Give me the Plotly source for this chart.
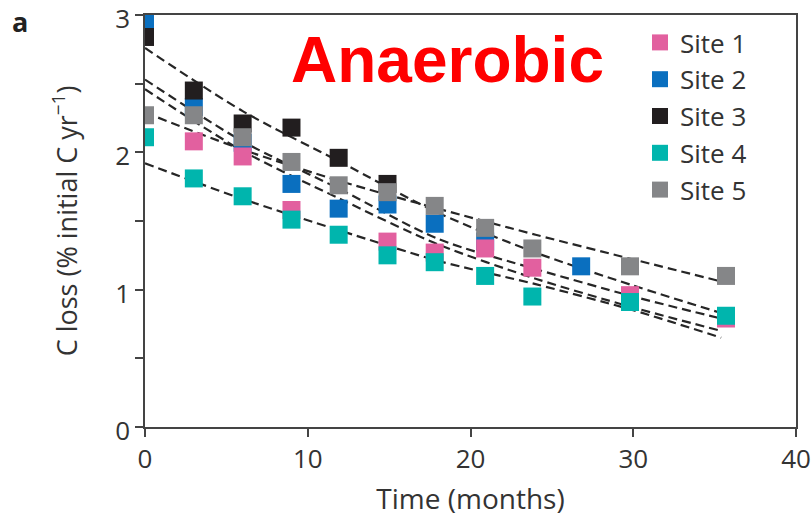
import plotly.graph_objects as go

# ---- data ----
t_all = [0, 3, 6, 9, 11.9, 14.9, 17.8, 20.9, 23.8, 26.8, 29.8, 35.7]

site1 = [None, 2.08, 1.97, 1.58, None, 1.35, 1.27, 1.30, 1.16, None, 0.96, 0.79]
site2 = [2.96, 2.33, 2.07, 1.77, 1.59, 1.62, 1.48, 1.35, None, 1.17, None, None]
site3 = [2.84, 2.45, 2.21, 2.18, 1.96, 1.77, None, None, None, None, None, None]
site4 = [2.11, 1.81, 1.68, 1.51, 1.40, 1.25, 1.20, 1.10, 0.95, None, 0.91, 0.81]
site5 = [2.27, 2.27, 2.11, 1.93, 1.76, 1.71, 1.61, 1.45, 1.30, None, 1.17, 1.10]

# fitted (dashed) curves
t_fit = [0, 6, 12, 18, 24, 30, 35.4]
fit1 = [2.46, 2.01, 1.66, 1.33, 1.08, 0.87, 0.70]
fit2 = [2.53, 2.08, 1.73, 1.37, 1.15, 0.95, 0.79]
fit3 = [2.76, 2.30, 1.93, 1.56, 1.27, 1.03, 0.83]
fit4 = [1.92, 1.66, 1.43, 1.21, 1.04, 0.85, 0.65]
fit5 = [2.29, 2.02, 1.79, 1.59, 1.40, 1.22, 1.06]

names = ["Site 1", "Site 2", "Site 3", "Site 4", "Site 5"]
colors = ["#E2609F", "#0A6FBF", "#221E1F", "#00B5AD", "#858688"]
values = [site1, site2, site3, site4, site5]
fits = [fit1, fit2, fit3, fit4, fit5]

x_ticks = [0, 10, 20, 30, 40]
y_ticks = [0, 1, 2, 3]

FONT = "Open Sans"
TXT = "#333333"

# plot-area geometry (pixels)
L, R, T, B = 145, 15, 15, 92
W, H = 811, 519
PW, PH = W - L - R, H - T - B

fig = go.Figure()

# dashed fit lines
for f in fits:
    fig.add_trace(go.Scatter(
        x=t_fit, y=f, mode="lines", showlegend=False, hoverinfo="skip",
        line=dict(color="#262626", width=2.2, dash="9px,5px", shape="spline", smoothing=0.8)))

# markers: draw order blue, pink, black, teal, gray; legend order by rank
draw_order = [1, 0, 2, 3, 4]
for i in draw_order:
    fig.add_trace(go.Scatter(
        x=t_all, y=values[i], mode="markers", name=names[i], legendrank=i + 1,
        marker=dict(symbol="square", size=18, color=colors[i], line=dict(width=0))))

axis_common = dict(ticks="outside", ticklen=8, tickwidth=1.5, tickcolor="#444",
                   showline=True, linecolor="#444", linewidth=1.5, mirror=True,
                   showgrid=False, zeroline=False, automargin=False,
                   ticklabeloverflow="allow",
                   tickfont=dict(size=26, family=FONT, color=TXT))

fig.update_layout(
    width=W, height=H,
    margin=dict(l=L, r=R, t=T, b=B),
    paper_bgcolor="white", plot_bgcolor="white",
    font=dict(family=FONT, size=26, color=TXT),
    showlegend=True,
    legend=dict(x=(640 - L) / PW, y=(H - B - 19) / PH, xanchor="left", yanchor="top",
                bgcolor="rgba(0,0,0,0)", font=dict(size=26, family=FONT, color=TXT),
                itemsizing="trace"),
    xaxis=dict(range=[0, 40], tickvals=x_ticks, **axis_common,
               title=dict(text="Time (months)", standoff=14,
                          font=dict(size=28, family=FONT, color=TXT))),
    yaxis=dict(range=[0, 3], tickvals=y_ticks, ticklabelshift=4, **axis_common,
               minor=dict(dtick=0.5, ticks="outside", ticklen=8, tickwidth=1.5, tickcolor="#444"),
               title=dict(text="C loss (% initial C yr<sup>\u22121</sup>)", standoff=30,
                          font=dict(size=27, family=FONT, color=TXT))),
)

fig.add_annotation(text="Anaerobic", xref="paper", yref="paper",
                   x=(447 - L) / PW, y=(H - B - 60) / PH, xanchor="center", yanchor="middle",
                   showarrow=False,
                   font=dict(family="Liberation Sans", size=64, color="#FF0000", weight=700))

fig.add_annotation(text="a", xref="paper", yref="paper",
                   x=(20 - L) / PW, y=(H - B - 1) / PH, xanchor="center", yanchor="top",
                   showarrow=False,
                   font=dict(family="Open Sans", size=27, color="#222", weight=700))

fig.write_html("out.html")
